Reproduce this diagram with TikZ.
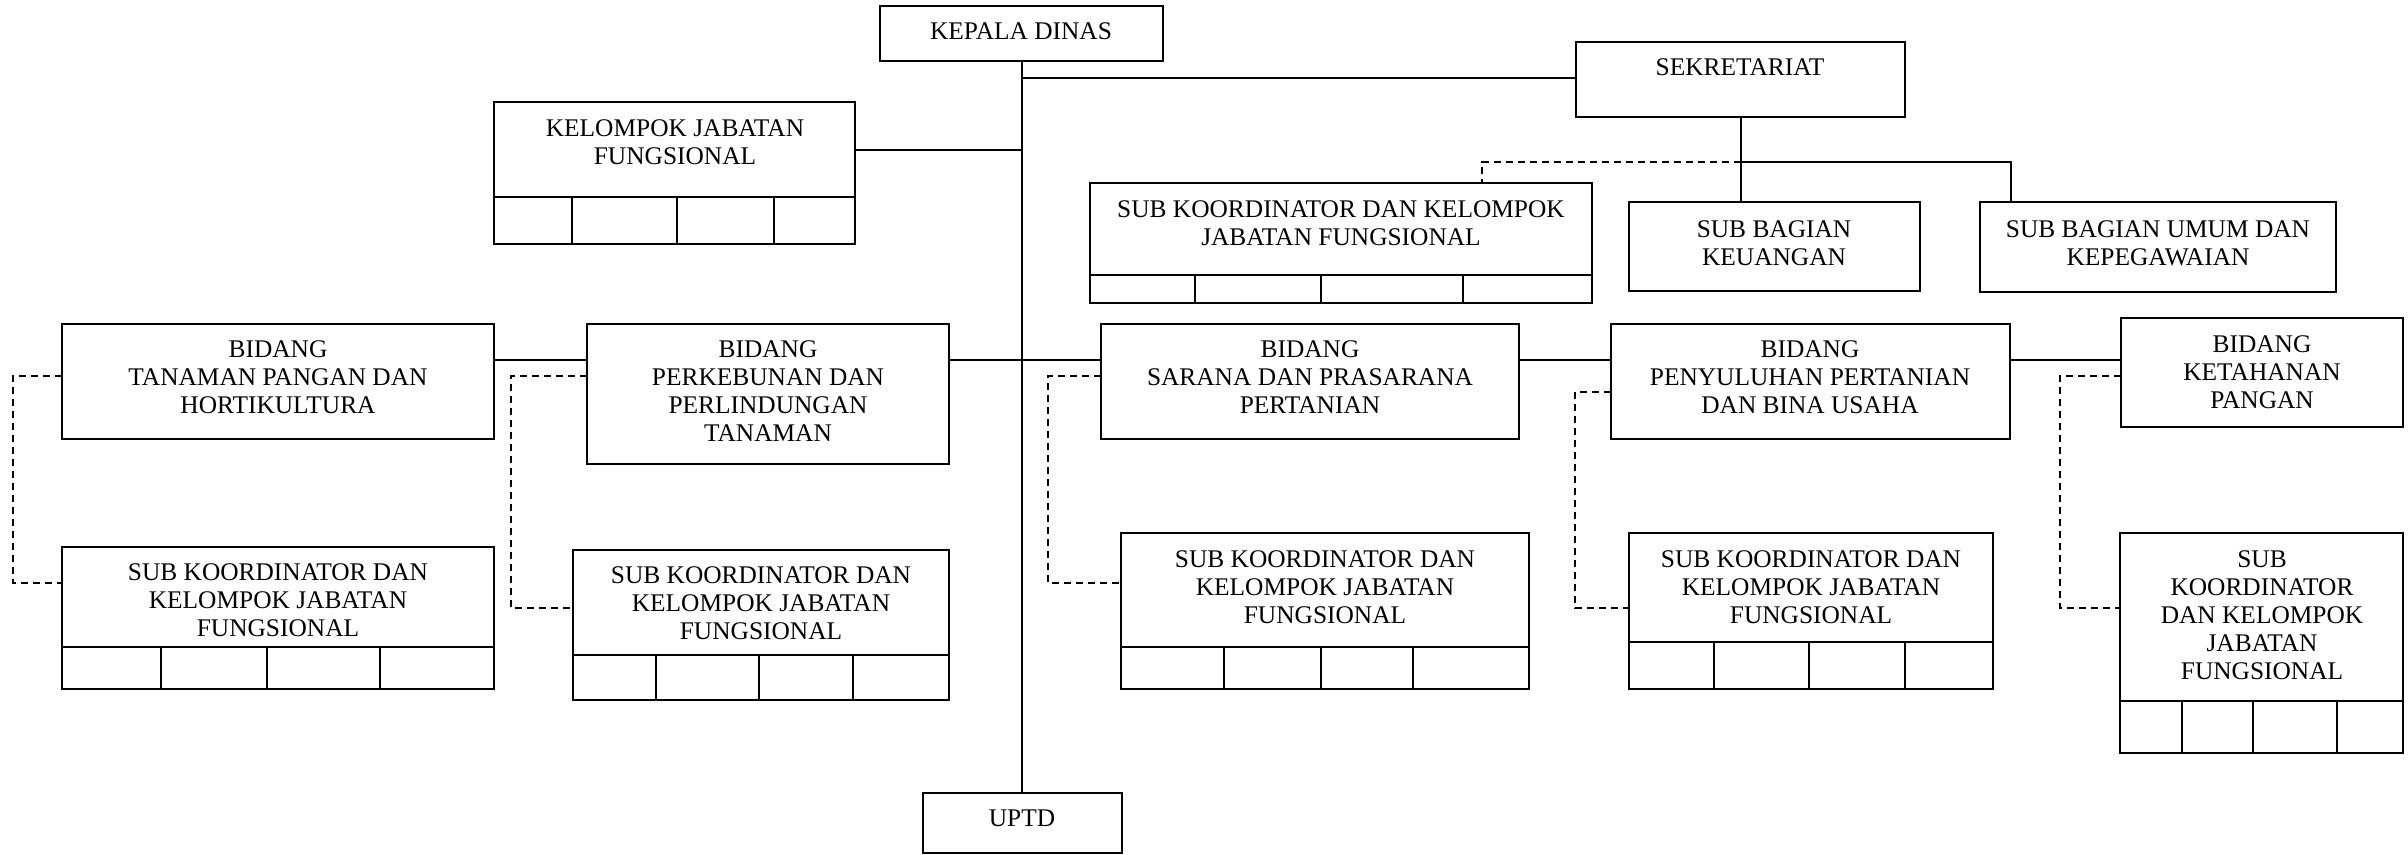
\documentclass[tikz,border=0pt]{standalone}
\usepackage{fontspec}
\setmainfont{Liberation Serif}
\usetikzlibrary{fit,calc}
\newcommand\obox[5]{\node[box, fit={(#2,#3) (#4,#5)}] (#1) {};}
\newcommand\cellrow[3]{%
  \draw[cell] (#1.west |- 0,#2) -- (#1.east |- 0,#2);
  \foreach \cx in {#3} {\draw[cell] (\cx,#2) -- (\cx,#2 |- #1.south);}}
\begin{document}
\begin{tikzpicture}[x=0.5pt,y=-0.5pt,
  box/.style={draw, line width=1.1pt, inner sep=0pt, outer sep=0pt},
  lbl/.style={align=center, font=\fontsize{12.7}{14}\selectfont, inner sep=0pt},
  conn/.style={line width=1pt},
  dconn/.style={line width=1pt, dash pattern=on 3.5pt off 2.5pt},
  cell/.style={line width=1pt}]
\useasboundingbox (0,0) rectangle (2408,855);

% boxes
\obox{KD}{880}{6}{1163}{61}
\obox{SEK}{1576}{42}{1905}{117}
\obox{KJF}{494}{102}{855}{244}
\obox{SUBK}{1090}{183}{1592}{303}
\obox{KEU}{1629}{202}{1920}{291}
\obox{UMUM}{1980}{202}{2336}{292}
\obox{TAN}{62}{324}{494}{439}
\obox{PERK}{587}{324}{949}{464}
\obox{SAR}{1101}{324}{1519}{439}
\obox{PENY}{1611}{324}{2010}{439}
\obox{KET}{2121}{318}{2403}{427}
\obox{S1}{62}{547}{494}{689}
\obox{S2}{573}{550}{949}{700}
\obox{S3}{1121}{533}{1529}{689}
\obox{S4}{1629}{533}{1993}{689}
\obox{S5}{2120}{533}{2403}{753}
\obox{UPTD}{923}{793}{1122}{853}

% cell rows
\cellrow{KJF}{197}{572,677,774}
\cellrow{SUBK}{275}{1195,1321,1463}
\cellrow{S1}{647}{161,267,380}
\cellrow{S2}{655}{656,759,853}
\cellrow{S3}{647}{1224,1321,1413}
\cellrow{S4}{642}{1714,1809,1905}
\cellrow{S5}{701}{2182,2253,2337}

% labels
\node[lbl] (tKD) at (1021,31) {KEPALA DINAS};
\node[lbl] (tSEK) at (1740,67) {SEKRETARIAT};
\node[lbl] (tKJF) at (675,142) {KELOMPOK JABATAN\\FUNGSIONAL};
\node[lbl] (tSUBK) at (1341,223) {SUB KOORDINATOR DAN KELOMPOK\\JABATAN FUNGSIONAL};
\node[lbl] (tKEU) at (1774,243) {SUB BAGIAN\\KEUANGAN};
\node[lbl] (tUMUM) at (2158,243) {SUB BAGIAN UMUM DAN\\KEPEGAWAIAN};
\node[lbl] (tTAN) at (278,377) {BIDANG\\TANAMAN PANGAN DAN\\HORTIKULTURA};
\node[lbl] (tPERK) at (768,391) {BIDANG\\PERKEBUNAN DAN\\PERLINDUNGAN\\TANAMAN};
\node[lbl] (tSAR) at (1310,377) {BIDANG\\SARANA DAN PRASARANA\\PERTANIAN};
\node[lbl] (tPENY) at (1810,377) {BIDANG\\PENYULUHAN PERTANIAN\\DAN BINA USAHA};
\node[lbl] (tKET) at (2262,372) {BIDANG\\KETAHANAN\\PANGAN};
\node[lbl] (tS1) at (278,600) {SUB KOORDINATOR DAN\\KELOMPOK JABATAN\\FUNGSIONAL};
\node[lbl] (tS2) at (761,603) {SUB KOORDINATOR DAN\\KELOMPOK JABATAN\\FUNGSIONAL};
\node[lbl] (tS3) at (1325,587) {SUB KOORDINATOR DAN\\KELOMPOK JABATAN\\FUNGSIONAL};
\node[lbl] (tS4) at (1811,587) {SUB KOORDINATOR DAN\\KELOMPOK JABATAN\\FUNGSIONAL};
\node[lbl] (tS5) at (2262,615) {SUB\\KOORDINATOR\\DAN KELOMPOK\\JABATAN\\FUNGSIONAL};
\node[lbl] (tUPTD) at (1022,818) {UPTD};

% solid connectors
\draw[conn] (KD.south) -- (KD.south |- UPTD.north);
\draw[conn] (KD.south |- 0,78) -- (SEK.west |- 0,78);
\draw[conn] (KJF.east |- 0,150) -- (KD.south |- 0,150);
\draw[conn] (TAN.east |- 0,360) -- (PERK.west |- 0,360);
\draw[conn] (PERK.east |- 0,360) -- (SAR.west |- 0,360);
\draw[conn] (SAR.east |- 0,360) -- (PENY.west |- 0,360);
\draw[conn] (PENY.east |- 0,360) -- (KET.west |- 0,360);
\coordinate (sbus) at (SEK.south |- 0,162);
\draw[conn] (SEK.south) -- (SEK.south |- KEU.north);
\draw[conn] (sbus) -- (2011,162) -- (2011,162 |- UMUM.north);

% dashed connectors
\draw[dconn] (sbus) -- (1482,162) -- (1482,162 |- SUBK.north);
\draw[dconn] (TAN.west |- 0,376) -- (13,376) -- (13,583) -- (S1.west |- 0,583);
\draw[dconn] (PERK.west |- 0,376) -- (511,376) -- (511,608) -- (S2.west |- 0,608);
\draw[dconn] (SAR.west |- 0,376) -- (1048,376) -- (1048,583) -- (S3.west |- 0,583);
\draw[dconn] (PENY.west |- 0,392) -- (1575,392) -- (1575,608) -- (S4.west |- 0,608);
\draw[dconn] (KET.west |- 0,376) -- (2060,376) -- (2060,608) -- (S5.west |- 0,608);
\end{tikzpicture}
\end{document}
